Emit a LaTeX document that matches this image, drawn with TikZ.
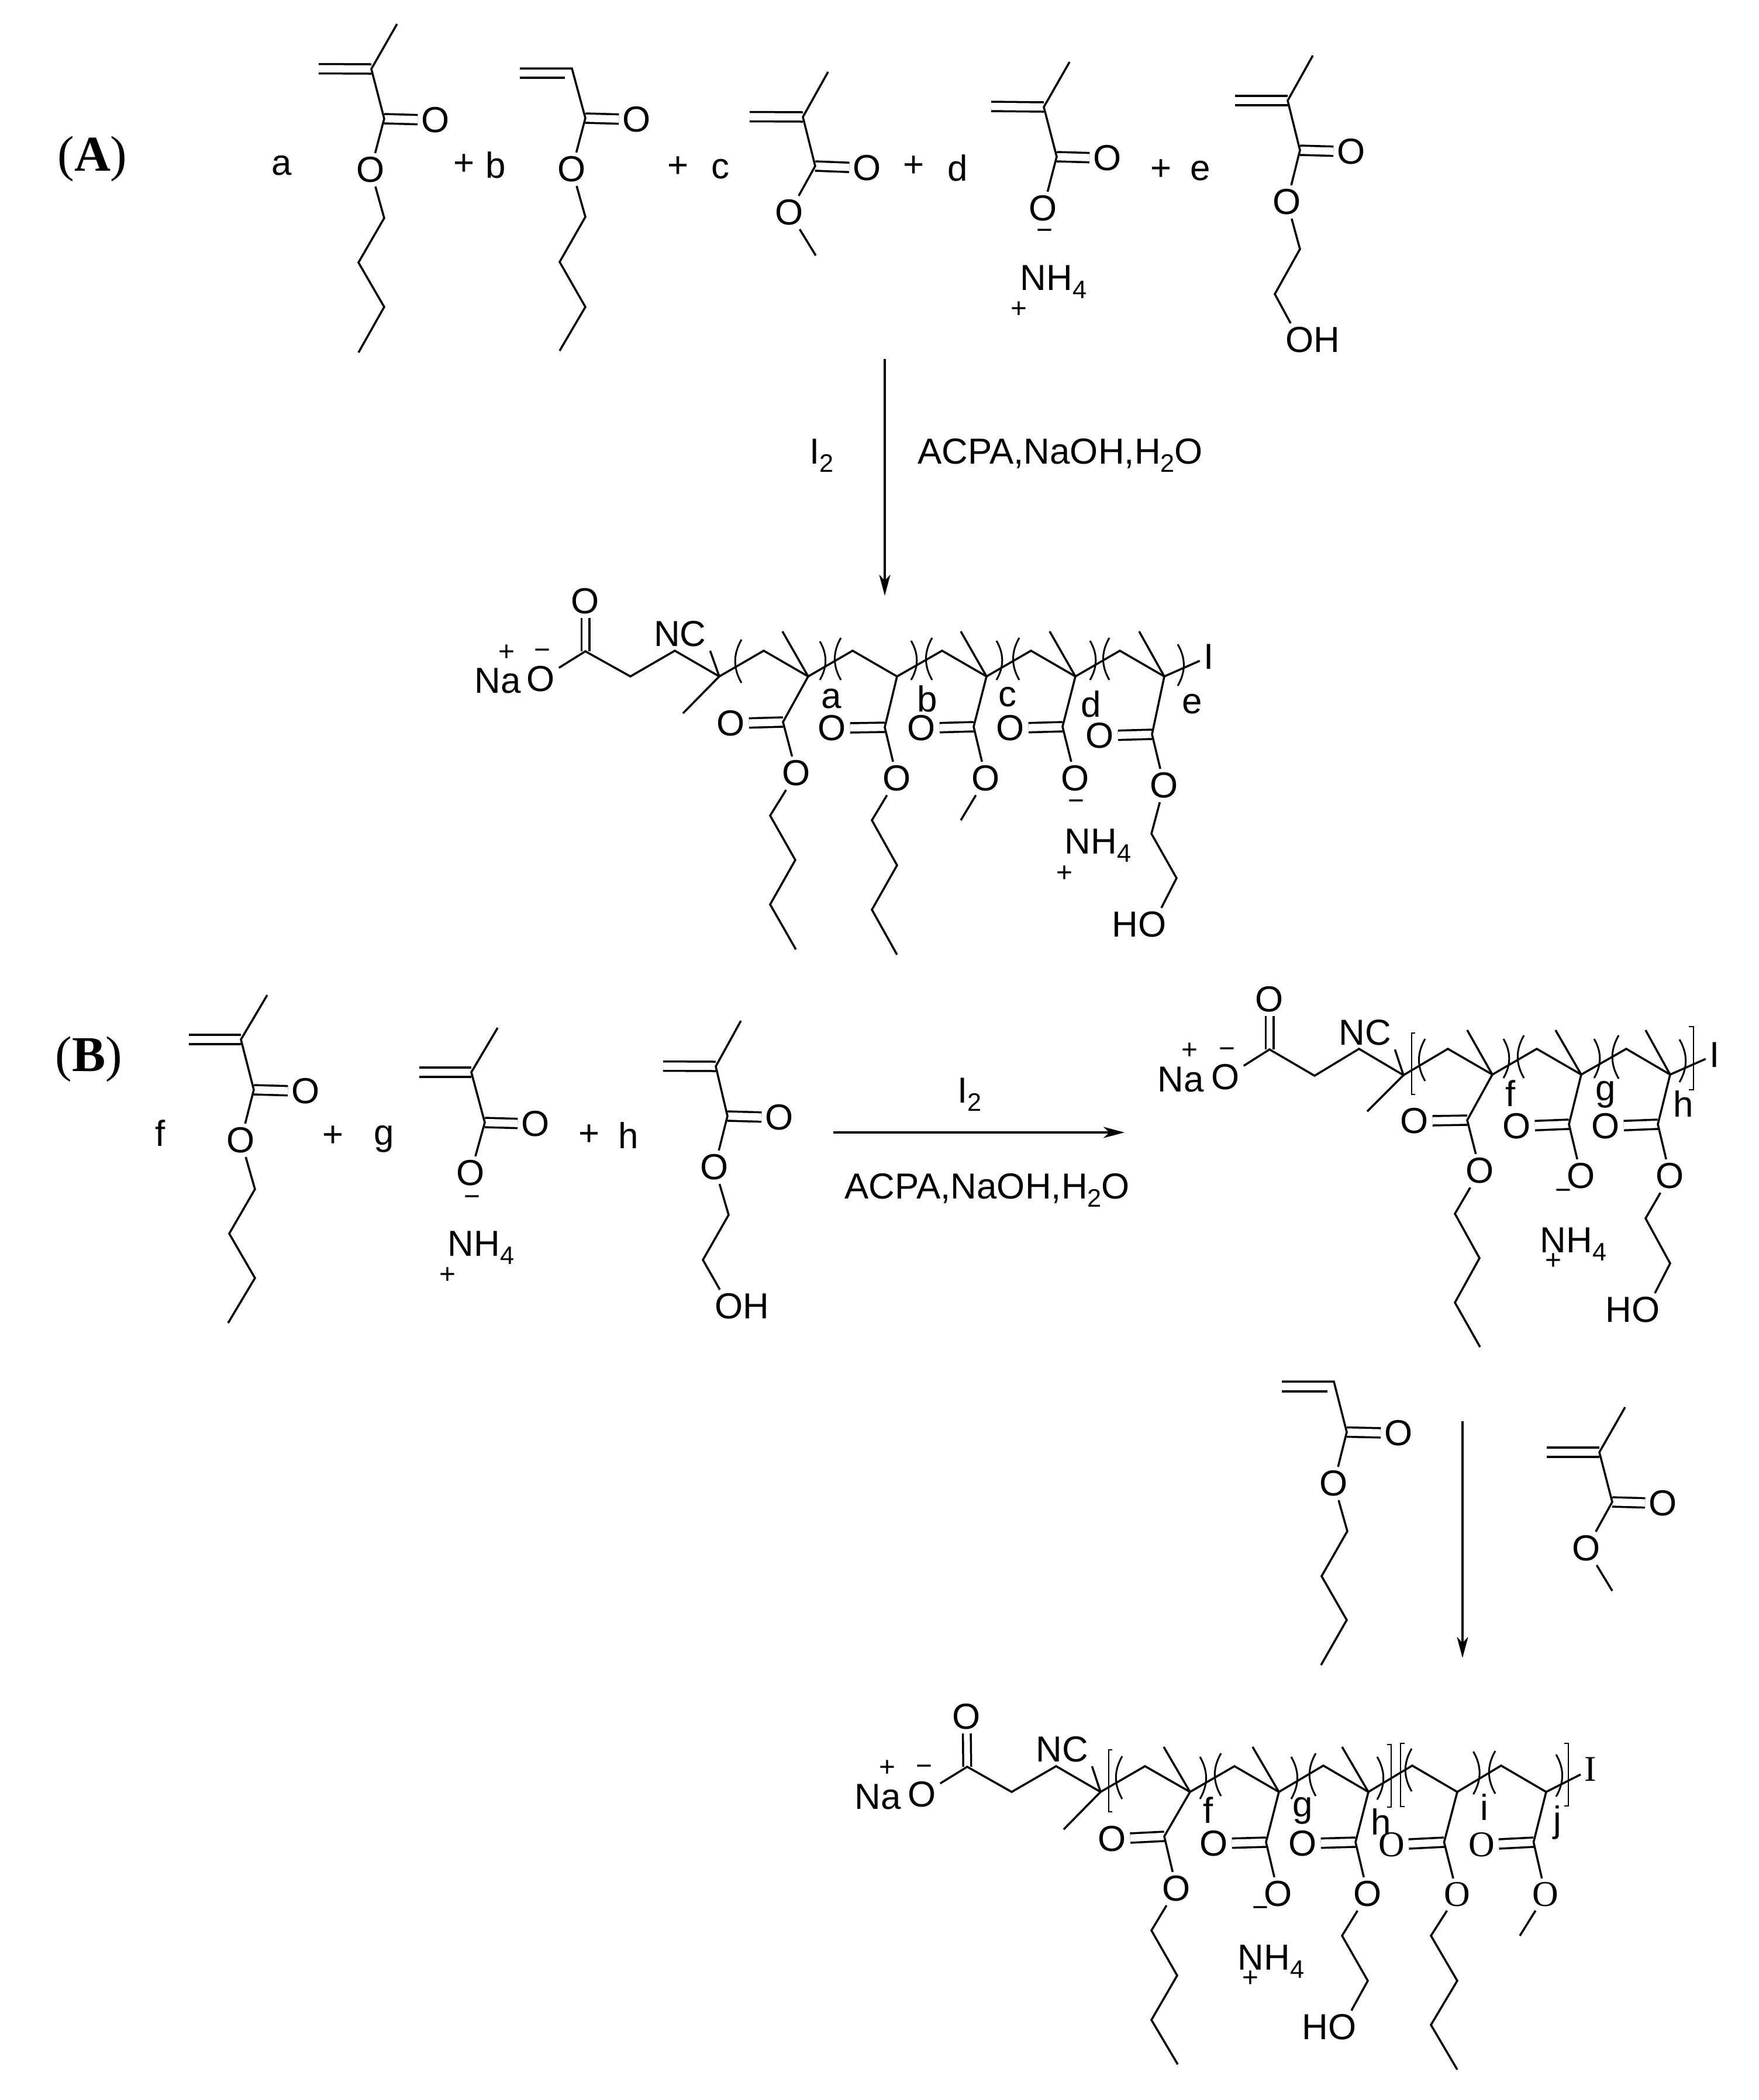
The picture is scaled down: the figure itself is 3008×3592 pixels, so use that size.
\documentclass[tikz,border=0pt]{standalone}
\usepackage{fontspec}
\setmainfont{Liberation Sans}
\newfontfamily\serifface{Liberation Serif}
\usetikzlibrary{arrows.meta}
\newcommand{\atomsize}{\fontsize{17.6}{20}\selectfont}
\newcommand{\lowidx}[1]{\raisebox{-4pt}{\fontsize{12.3}{13}\selectfont #1}}
\tikzset{
	atom/.style={font=\atomsize,inner sep=0.06cm,yshift=-0.015cm},
	serif atom/.style={font=\atomsize\serifface,inner sep=0.06cm,yshift=-0.015cm},
	ion/.style={font=\atomsize,anchor=base west,inner sep=0pt,yshift=-0.03cm},
	charge/.style={font=\fontsize{13.6}{14}\selectfont,inner sep=0pt},
	panel/.style={font=\fontsize{24.4}{26}\selectfont\serifface,inner sep=0pt},
	bond/.style={draw,line width=0.035cm},
	dbond/.style={draw,line width=0.035cm,double,double distance=0.125cm},
	vbond/.style={draw,line width=0.035cm,double,double distance=0.1cm},
	paren/.style={draw,line width=0.03cm},
	bracket/.style={draw,line width=0.028cm},
	rxn/.style={draw,line width=0.037cm,-{Stealth[length=0.36cm,width=0.19cm,inset=0.1cm]}}
}

\begin{document}
\begin{tikzpicture}[x=0.01cm,y=-0.01cm]
	\useasboundingbox (0,0) rectangle (3008,3592);
	% panel A, monomers
	\node [panel] (panelA) at (158,272) {(\textbf{A})};
	\node [atom] (ca) at (482,282) {a};
	\node [atom] (pl1) at (794,280) {+};
	\node [atom] (cb) at (848,281) {b};
	\node [atom] (pl2) at (1160,284) {+};
	\node [atom] (cc) at (1232,288) {c};
	\node [atom] (pl3) at (1563,283) {+};
	\node [atom] (cd) at (1638,286) {d};
	\node [atom] (pl4) at (1986,289) {+};
	\node [atom] (ce) at (2053,291) {e};

	\foreach \n/\x/\y in {a1m/679/41,a1v/635/118,a1e/545/117.5,a1c/657/203,a1p/657/373,a1q/613/449,a1r/657/525,a1s/613/603}
		\coordinate (\n) at (\x,\y);
	\node [atom] (a1d) at (745,204) {O};
	\node [atom] (a1o) at (634,289) {O};
	\draw [dbond] (a1e) -- (a1v);
	\draw [dbond] (a1c) -- (a1d);
	\draw [bond] (a1m) -- (a1v) -- (a1c) -- (a1o) -- (a1p) -- (a1q) -- (a1r) -- (a1s);

	\foreach \n/\x/\y in {a2e/889/117,a2f/889/133,a2g/966/133,a2v/978/117,a2c/1001/202,a2p/1001/371,a2q/957/448,a2r/1001/525,a2s/957/600}
		\coordinate (\n) at (\x,\y);
	\node [atom] (a2d) at (1089,203) {O};
	\node [atom] (a2o) at (978,288) {O};
	\draw [dbond] (a2c) -- (a2d);
	\draw [bond] (a2f) -- (a2g);
	\draw [bond] (a2e) -- (a2v) -- (a2c) -- (a2o) -- (a2p) -- (a2q) -- (a2r) -- (a2s);

	\foreach \n/\x/\y in {a3m/1416/123,a3v/1373/200,a3e/1282/199.5,a3c/1394/284,a3s/1395/437}
		\coordinate (\n) at (\x,\y);
	\node [atom] (a3d) at (1483,286) {O};
	\node [atom] (a3o) at (1350,362) {O};
	\draw [dbond] (a3e) -- (a3v);
	\draw [dbond] (a3c) -- (a3d);
	\draw [bond] (a3m) -- (a3v) -- (a3c) -- (a3o) -- (a3s);

	\foreach \n/\x/\y in {a4m/1829/106,a4v/1785/183,a4e/1695/182,a4c/1807/268}
		\coordinate (\n) at (\x,\y);
	\node [atom] (a4d) at (1894,269) {O};
	\node [atom] (a4o) at (1784,355) {O};
	\node [charge] (a4neg) at (1786,401) {−};
	\node [ion] (a4nh) at (1744,493) {NH\lowidx{4}};
	\node [charge] (a4pos) at (1742,530) {+};
	\draw [dbond] (a4e) -- (a4v);
	\draw [dbond] (a4c) -- (a4d);
	\draw [bond] (a4m) -- (a4v) -- (a4c) -- (a4o);

	\foreach \n/\x/\y in {a5m/2245/95,a5v/2202/172,a5e/2112/172,a5c/2223/257,a5p/2223/426,a5q/2180/503}
		\coordinate (\n) at (\x,\y);
	\node [atom] (a5d) at (2311,258) {O};
	\node [atom] (a5o) at (2201,344) {O};
	\node [atom] (a5h) at (2245,580) {OH};
	\draw [dbond] (a5e) -- (a5v);
	\draw [dbond] (a5c) -- (a5d);
	\draw [bond] (a5m) -- (a5v) -- (a5c) -- (a5o) -- (a5p) -- (a5q) -- (a5h.143);

	% arrow of panel A
	\coordinate (arAs) at (1513,614);
	\coordinate (arAe) at (1513,1019);
	\draw [rxn] (arAs) -- (arAe);
	\node [ion] (arAi) at (1384,790) {I\lowidx{2}};
	\node [ion] (arAc) at (1569,790) {ACPA,NaOH,H\lowidx{2}O};

	% panel A, polymer
	\foreach \n/\x/\y in {pa1/1001/1114,pa2/1078/1157,pa3/1154/1113,pa4/1230/1157,pa5/1306/1113,pa6/1382/1157,pa7/1458/1113,pa8/1534/1157,pa9/1611/1113,pa10/1687/1157,pa11/1763/1113,pa12/1839/1157,pa13/1915/1113,pa14/1991/1157,pam0/1168/1220,pam1/1338/1080,pam3/1643/1080,pam4/1795/1080,pam5/1948/1080}
		\coordinate (\n) at (\x,\y);
	\node [atom] (pana) at (851,1163) {Na};
	\node [charge] (papos) at (866,1117) {+};
	\node [charge] (paneg) at (927,1119) {−};
	\node [atom] (pao) at (925,1160) {O};
	\node [atom] (patop) at (1001,1027) {O};
	\node [atom] (panc) at (1163,1083) {NC};
	\node [atom] (paI) at (2067,1122) {I};
	\draw [vbond] (pa1) -- (patop);
	\draw [bond] (pao) -- (pa1) -- (pa2) -- (pa3) -- (pa4) -- (pa5) -- (pa6) -- (pa7) -- (pa8) -- (pa9) -- (pa10) -- (pa11) -- (pa12) -- (pa13) -- (pa14) -- (paI);
	\draw [bond] (panc.south east) -- (pa4) -- (pam0);
	\foreach \i/\j in {pa6/pam1,pa10/pam3,pa12/pam4,pa14/pam5}
		\draw [bond] (\i) -- (\j);
	\foreach \x/\t/\e in {1268/1094/1168,1438/1091/1163,1594/1091/1163,1743/1091/1163,1897/1091/1163}
		\draw [paren] (\x,\t) to[bend right=30] (\x,\e);
	\foreach \x/\t/\e in {1402/1097/1163,1558/1096/1163,1704/1096/1163,1864/1096/1163,2014/1102/1173}
		\draw [paren] (\x,\t) to[bend left=30] (\x,\e);
	\node [atom] (pala) at (1422,1194) {a};
	\node [atom] (palb) at (1586,1194) {b};
	\node [atom] (palc) at (1723,1191) {c};
	\node [atom] (pald) at (1866,1203) {d};
	\node [atom] (pale) at (2039,1203) {e};

	\foreach \n/\x/\y in {sa1c/1339/1235,sa1p/1317/1395,sa1q/1360/1471,sa1r/1317/1547,sa1s/1361/1624}
		\coordinate (\n) at (\x,\y);
	\node [atom] (sa1d) at (1250,1236) {O};
	\node [atom] (sa1o) at (1362,1321) {O};
	\draw [dbond] (sa1c) -- (sa1d);
	\draw [bond] (pa6) -- (sa1c) -- (sa1o) -- (sa1p) -- (sa1q) -- (sa1r) -- (sa1s);

	\foreach \n/\x/\y in {sa2c/1513/1244,sa2p/1491/1403,sa2q/1534/1480,sa2r/1491/1556,sa2s/1534/1633}
		\coordinate (\n) at (\x,\y);
	\node [atom] (sa2d) at (1423,1244) {O};
	\node [atom] (sa2o) at (1534,1330) {O};
	\draw [dbond] (sa2c) -- (sa2d);
	\draw [bond] (pa8) -- (sa2c) -- (sa2o) -- (sa2p) -- (sa2q) -- (sa2r) -- (sa2s);

	\coordinate (sa3c) at (1665,1243);
	\coordinate (sa3s) at (1643,1403);
	\node [atom] (sa3d) at (1576,1244) {O};
	\node [atom] (sa3o) at (1686,1330) {O};
	\draw [dbond] (sa3c) -- (sa3d);
	\draw [bond] (pa10) -- (sa3c) -- (sa3o) -- (sa3s);

	\coordinate (sa4c) at (1817,1243);
	\node [atom] (sa4d) at (1728,1244) {O};
	\node [atom] (sa4o) at (1839,1330) {O};
	\node [charge] (sa4neg) at (1840,1377) {−};
	\node [ion] (sa4nh) at (1820,1457) {NH\lowidx{4}};
	\node [charge] (sa4pos) at (1820,1495) {+};
	\draw [dbond] (sa4c) -- (sa4d);
	\draw [bond] (pa12) -- (sa4c) -- (sa4o);

	\foreach \n/\x/\y in {sa5c/1970/1256,sa5p/1969/1426,sa5q/2012/1502}
		\coordinate (\n) at (\x,\y);
	\node [atom] (sa5d) at (1881,1257) {O};
	\node [atom] (sa5o) at (1991,1342) {O};
	\node [atom] (sa5h) at (1948,1580) {HO};
	\draw [dbond] (sa5c) -- (sa5d);
	\draw [bond] (pa14) -- (sa5c) -- (sa5o) -- (sa5p) -- (sa5q) -- (sa5h.37);

	% panel B, monomers
	\node [panel] (panelB) at (152,1812) {(\textbf{B})};
	\node [atom] (cf) at (274,1937) {f};
	\node [atom] (pl5) at (570,1942) {+};
	\node [atom] (cg) at (657,1947) {g};
	\node [atom] (pl6) at (1008,1940) {+};
	\node [atom] (ch) at (1075,1941) {h};

	\foreach \n/\x/\y in {b1m/457/1702,b1v/412/1778,b1e/323/1778,b1c/434/1864,b1p/436/2034,b1q/392/2110,b1r/436/2186,b1s/390/2263}
		\coordinate (\n) at (\x,\y);
	\node [atom] (b1d) at (523,1865) {O};
	\node [atom] (b1o) at (412,1949) {O};
	\draw [dbond] (b1e) -- (b1v);
	\draw [dbond] (b1c) -- (b1d);
	\draw [bond] (b1m) -- (b1v) -- (b1c) -- (b1o) -- (b1p) -- (b1q) -- (b1r) -- (b1s);

	\foreach \n/\x/\y in {b2m/851/1758,b2v/806/1834,b2e/717/1834,b2c/829/1920}
		\coordinate (\n) at (\x,\y);
	\node [atom] (b2d) at (916,1921) {O};
	\node [atom] (b2o) at (805,2005) {O};
	\node [charge] (b2neg) at (807,2054) {−};
	\node [ion] (b2nh) at (765,2145) {NH\lowidx{4}};
	\node [charge] (b2pos) at (765,2182) {+};
	\draw [dbond] (b2e) -- (b2v);
	\draw [dbond] (b2c) -- (b2d);
	\draw [bond] (b2m) -- (b2v) -- (b2c) -- (b2o);

	\foreach \n/\x/\y in {b3m/1267/1746,b3v/1224/1824,b3e/1134/1823.5,b3c/1244/1909,b3p/1246/2078,b3q/1202/2155}
		\coordinate (\n) at (\x,\y);
	\node [atom] (b3d) at (1333,1910) {O};
	\node [atom] (b3o) at (1222,1995) {O};
	\node [atom] (b3h) at (1269,2233) {OH};
	\draw [dbond] (b3e) -- (b3v);
	\draw [dbond] (b3c) -- (b3d);
	\draw [bond] (b3m) -- (b3v) -- (b3c) -- (b3o) -- (b3p) -- (b3q) -- (b3h.143);

	% arrow of panel B
	\coordinate (arBs) at (1425,1937);
	\coordinate (arBe) at (1923,1937);
	\draw [rxn] (arBs) -- (arBe);
	\node [ion] (arBi) at (1637,1883) {I\lowidx{2}};
	\node [ion] (arBc) at (1444,2047) {ACPA,NaOH,H\lowidx{2}O};

	% panel B, first polymer
	\foreach \n/\x/\y in {pb1/2171/1795,pb2/2248/1840,pb3/2324/1794,pb4/2400/1839,pb5/2476/1794,pb6/2552/1838,pb7/2628/1794,pb8/2704/1838,pb9/2781/1794,pb10/2856/1838,pbm0/2338/1901,pbm1/2509/1762,pbm2/2660/1762,pbm3/2814/1762}
		\coordinate (\n) at (\x,\y);
	\node [atom] (pbna) at (2019,1845) {Na};
	\node [charge] (pbpos) at (2034,1798) {+};
	\node [charge] (pbneg) at (2098,1801) {−};
	\node [atom] (pbo) at (2096,1841) {O};
	\node [atom] (pbtop) at (2171,1708) {O};
	\node [atom] (pbnc) at (2334,1765) {NC};
	\node [atom] (pbI) at (2932,1803) {I};
	\draw [vbond] (pb1) -- (pbtop);
	\draw [bond] (pbo) -- (pb1) -- (pb2) -- (pb3) -- (pb4) -- (pb5) -- (pb6) -- (pb7) -- (pb8) -- (pb9) -- (pb10) -- (pbI);
	\draw [bond] (pbnc.south east) -- (pb4) -- (pbm0);
	\foreach \i/\j in {pb6/pbm1,pb8/pbm2,pb10/pbm3}
		\draw [bond] (\i) -- (\j);
	\foreach \x/\t/\e in {2437/1777/1849,2606/1771/1844,2768/1771/1845}
		\draw [paren] (\x,\t) to[bend right=30] (\x,\e);
	\foreach \x/\t/\e in {2571/1777/1844,2726/1777/1844,2872/1778/1851}
		\draw [paren] (\x,\t) to[bend left=30] (\x,\e);
	\foreach \x/\k/\t/\e in {2420/2414/1767/1872,2888/2896/1756/1864}
		\draw [bracket] (\x,\t) -- (\k,\t) -- (\k,\e) -- (\x,\e);
	\node [atom] (pblf) at (2583,1869) {f};
	\node [atom] (pblg) at (2746,1871) {g};
	\node [atom] (pblh) at (2879,1887) {h};

	\foreach \n/\x/\y in {sb1c/2509/1916,sb1p/2488/2076,sb1q/2530/2152,sb1r/2488/2228,sb1s/2531/2304}
		\coordinate (\n) at (\x,\y);
	\node [atom] (sb1d) at (2419,1916) {O};
	\node [atom] (sb1o) at (2531,2001) {O};
	\draw [dbond] (sb1c) -- (sb1d);
	\draw [bond] (pb6) -- (sb1c) -- (sb1o) -- (sb1p) -- (sb1q) -- (sb1r) -- (sb1s);

	\coordinate (sb2c) at (2683,1923);
	\node [atom] (sb2d) at (2594,1925) {O};
	\node [atom] (sb2o) at (2704,2010) {O};
	\node [charge] (sb2neg) at (2673,2043) {−};
	\node [ion] (sb2nh) at (2633,2139) {NH\lowidx{4}};
	\node [charge] (sb2pos) at (2656,2158) {+};
	\draw [dbond] (sb2c) -- (sb2d);
	\draw [bond] (pb8) -- (sb2c) -- (sb2o);

	\foreach \n/\x/\y in {sb3c/2835/1923,sb3p/2814/2084,sb3q/2856/2161}
		\coordinate (\n) at (\x,\y);
	\node [atom] (sb3d) at (2746,1925) {O};
	\node [atom] (sb3o) at (2856,2010) {O};
	\node [atom] (sb3h) at (2792,2239) {HO};
	\draw [dbond] (sb3c) -- (sb3d);
	\draw [bond] (pb10) -- (sb3c) -- (sb3o) -- (sb3p) -- (sb3q) -- (sb3h.37);

	% monomers of the second step
	\foreach \n/\x/\y in {m1e/2192/2363,m1f/2192/2380,m1g/2270/2380,m1v/2281/2363,m1c/2303/2449.5,m1p/2304/2619,m1q/2260/2696,m1r/2303/2771,m1s/2259/2848}
		\coordinate (\n) at (\x,\y);
	\node [atom] (m1d) at (2392,2450) {O};
	\node [atom] (m1o) at (2281,2536) {O};
	\draw [dbond] (m1c) -- (m1d);
	\draw [bond] (m1f) -- (m1g);
	\draw [bond] (m1e) -- (m1v) -- (m1c) -- (m1o) -- (m1p) -- (m1q) -- (m1r) -- (m1s);

	\foreach \n/\x/\y in {m2m/2779/2407,m2v/2735/2484,m2e/2645/2484,m2c/2757/2569,m2s/2757/2721}
		\coordinate (\n) at (\x,\y);
	\node [atom] (m2d) at (2844,2570) {O};
	\node [atom] (m2o) at (2713,2647) {O};
	\draw [dbond] (m2e) -- (m2v);
	\draw [dbond] (m2c) -- (m2d);
	\draw [bond] (m2m) -- (m2v) -- (m2c) -- (m2o) -- (m2s);

	\coordinate (arCs) at (2501,2431);
	\coordinate (arCe) at (2501,2836);
	\draw [rxn] (arCs) -- (arCe);

	% panel B, second polymer
	\foreach \n/\x/\y in {pc1/1654/3022,pc2/1730/3065,pc3/1806/3021,pc4/1882/3065,pc5/1958/3021,pc6/2035/3065,pc7/2111/3021,pc8/2187/3065,pc9/2263/3020,pc10/2340/3065,pc11/2415/3020,pc12/2492/3065,pc13/2567/3020,pc14/2644/3065,pcm0/1819/3129,pcm1/1990/2988,pcm2/2142/2988,pcm3/2295/2988}
		\coordinate (\n) at (\x,\y);
	\node [atom] (pcna) at (1501,3072) {Na};
	\node [charge] (pcpos) at (1517,3025) {+};
	\node [charge] (pcneg) at (1580,3028) {−};
	\node [atom] (pco) at (1577,3068) {O};
	\node [atom] (pctop) at (1653,2935) {O};
	\node [atom] (pcnc) at (1816,2991) {NC};
	\node [serif atom] (pcI) at (2720,3025) {I};
	\draw [vbond] (pc1) -- (pctop);
	\draw [bond] (pco) -- (pc1) -- (pc2) -- (pc3) -- (pc4) -- (pc5) -- (pc6) -- (pc7) -- (pc8) -- (pc9) -- (pc10) -- (pc11) -- (pc12) -- (pc13) -- (pc14) -- (pcI);
	\draw [bond] (pcnc.south east) -- (pc4) -- (pcm0);
	\foreach \i/\j in {pc6/pcm1,pc8/pcm2,pc10/pcm3}
		\draw [bond] (\i) -- (\j);
	\foreach \x/\t/\e in {1919/3004/3077,2088/2999/3072,2250/2999/3072,2414/2991/3064,2557/2995/3068}
		\draw [paren] (\x,\t) to[bend right=30] (\x,\e);
	\foreach \x/\t/\e in {2052/3005/3077,2208/3005/3077,2355/3005/3078,2519.5/2996/3069,2661/3001/3073}
		\draw [paren] (\x,\t) to[bend left=30] (\x,\e);
	\foreach \x/\k/\t/\e in {1902/1896/2993/3099,2372/2379/2984/3091,2402/2395/2982/3090,2675/2682/2982/3089}
		\draw [bracket] (\x,\t) -- (\k,\t) -- (\k,\e) -- (\x,\e);
	\node [atom] (pclf) at (2066,3095) {f};
	\node [atom] (pclg) at (2228,3096) {g};
	\node [atom] (pclh) at (2362,3115) {h};
	\node [atom] (pcli) at (2538,3090) {i};
	\node [atom] (pclj) at (2663,3116) {j};

	\foreach \n/\x/\y in {sc1c/1991/3141,sc1p/1969/3302,sc1q/2013/3379,sc1r/1969/3455,sc1s/2014/3531}
		\coordinate (\n) at (\x,\y);
	\node [atom] (sc1d) at (1902,3144) {O};
	\node [atom] (sc1o) at (2012,3229) {O};
	\draw [dbond] (sc1c) -- (sc1d);
	\draw [bond] (pc6) -- (sc1c) -- (sc1o) -- (sc1p) -- (sc1q) -- (sc1r) -- (sc1s);

	\coordinate (sc2c) at (2165,3151);
	\node [atom] (sc2d) at (2076,3152) {O};
	\node [atom] (sc2o) at (2186,3238) {O};
	\node [charge] (sc2neg) at (2155,3270) {−};
	\node [ion] (sc2nh) at (2116,3366) {NH\lowidx{4}};
	\node [charge] (sc2pos) at (2138,3385) {+};
	\draw [dbond] (sc2c) -- (sc2d);
	\draw [bond] (pc8) -- (sc2c) -- (sc2o);

	\foreach \n/\x/\y in {sc3c/2318/3151,sc3p/2295/3311,sc3q/2339/3388}
		\coordinate (\n) at (\x,\y);
	\node [atom] (sc3d) at (2228,3152) {O};
	\node [atom] (sc3o) at (2339,3238) {O};
	\node [atom] (sc3h) at (2273,3466) {HO};
	\draw [dbond] (sc3c) -- (sc3d);
	\draw [bond] (pc10) -- (sc3c) -- (sc3o) -- (sc3p) -- (sc3q) -- (sc3h.37);

	\foreach \n/\x/\y in {sc4c/2469.5/3151,sc4p/2447/3311,sc4q/2492/3388,sc4r/2447/3463.5,sc4s/2492/3540}
		\coordinate (\n) at (\x,\y);
	\node [serif atom] (sc4d) at (2380,3154) {O};
	\node [serif atom] (sc4o) at (2492,3239) {O};
	\draw [dbond] (sc4c) -- (sc4d);
	\draw [bond] (pc12) -- (sc4c) -- (sc4o) -- (sc4p) -- (sc4q) -- (sc4r) -- (sc4s);

	\coordinate (sc5c) at (2622.5,3151);
	\coordinate (sc5s) at (2599,3311);
	\node [serif atom] (sc5d) at (2534,3154) {O};
	\node [serif atom] (sc5o) at (2643,3239) {O};
	\draw [dbond] (sc5c) -- (sc5d);
	\draw [bond] (pc14) -- (sc5c) -- (sc5o) -- (sc5s);
\end{tikzpicture}
\end{document}
